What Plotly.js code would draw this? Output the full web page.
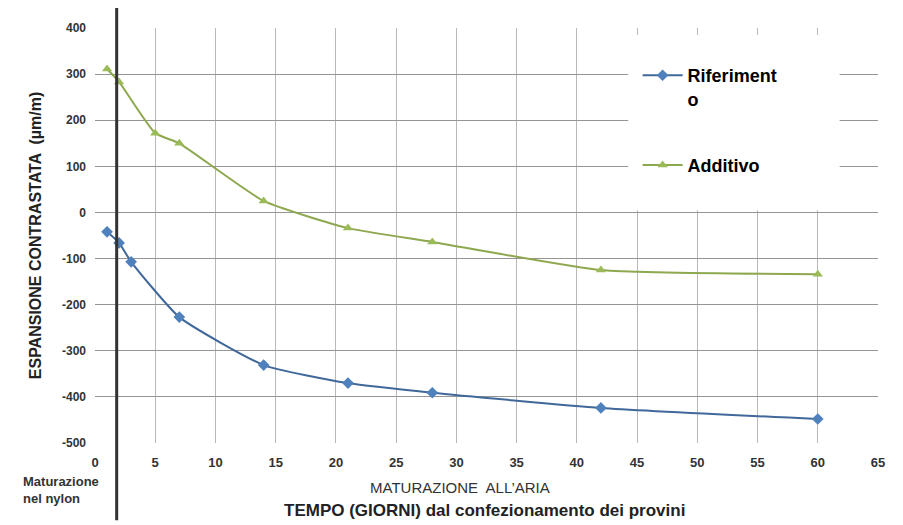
<!DOCTYPE html>
<html><head><meta charset="utf-8">
<script src="https://cdn.plot.ly/plotly-3.0.1.min.js"></script>
<style>html,body{margin:0;padding:0;background:#fff}#chart{width:903px;height:525px}</style>
</head><body><div id="chart"></div>
<script>
const days = [1, 2, 3, 7, 14, 21, 28, 42, 60];
const riferimento = [-42, -66, -107, -227, -331, -370, -391, -424, -448];
const daysAdd = [1, 2, 5, 7, 14, 21, 28, 42, 60];
const additivo = [311, 283, 172, 150, 25, -34, -64, -125, -134];
const xTicks = [0,5,10,15,20,25,30,35,40,45,50,55,60,65];
const yTicks = [-500,-400,-300,-200,-100,0,100,200,300,400];
const yTickText = ['-500','-400','-300','-200','-100','0','100','200','300','400'];

const traces = [
  {x: days, y: riferimento, name: 'Riferiment<br>o', mode: 'lines+markers', legendgroup: 'a',
   line: {color: '#41689a', width: 2, shape: 'spline', smoothing: 0.5},
   marker: {symbol: 'diamond', size: 9, color: '#4f81bd'}},
  {x: daysAdd, y: additivo, name: 'Additivo', mode: 'lines+markers', legendgroup: 'b',
   line: {color: '#8ea84f', width: 2, shape: 'spline', smoothing: 0.5},
   marker: {symbol: 'triangle-up', size: 9, color: '#9bbb59'}}
];

const layout = {
  width: 903, height: 525,
  margin: {l: 95, r: 25, t: 28, b: 82},
  paper_bgcolor: '#fff', plot_bgcolor: '#fff',
  font: {family: 'Liberation Sans, Arial, sans-serif', color: '#222'},
  xaxis: {range: [0, 65], tickvals: xTicks, showgrid: true, gridcolor: '#b8b8b8', gridwidth: 1,
          zeroline: false, showline: false, ticks: '', ticklabelstandoff: 10,
          tickfont: {size: 13, color: '#333', weight: 'bold'}},
  yaxis: {range: [-500, 400], tickvals: yTicks, ticktext: yTickText, showgrid: true, gridcolor: '#959595', gridwidth: 1,
          zeroline: false, showline: false, ticks: '', ticklabelstandoff: 8,
          tickfont: {size: 12, color: '#333', weight: 'bold'},
          title: {text: 'ESPANSIONE CONTRASTATA  (µm/m)', standoff: 16,
                  font: {size: 16, color: '#222', weight: 'bold'}}},
  showlegend: true,
  legend: {x: 0.693, y: 0.93, xanchor: 'left', yanchor: 'top', bgcolor: 'rgba(0,0,0,0)',
           tracegroupgap: 40, valign: 'top', itemwidth: 40,
           font: {size: 18, color: '#000', weight: 'bold'}},
  shapes: [
    {type: 'rect', xref: 'paper', yref: 'paper', x0: 0.681, x1: 0.951, y0: 0.561, y1: 0.983,
     fillcolor: '#fff', line: {width: 0}, layer: 'above'},
    {type: 'line', xref: 'x', yref: 'paper', x0: 1.8, x1: 1.8, y0: -0.186, y1: 1.048,
     line: {color: '#333', width: 3}}
  ],
  annotations: [
    {text: 'MATURAZIONE  ALL\u2019ARIA', xref: 'paper', yref: 'paper', x: 0.466, y: -0.107,
     xanchor: 'center', yanchor: 'middle', showarrow: false, font: {size: 15, color: '#333'}},
    {text: 'TEMPO (GIORNI) dal confezionamento dei provini', xref: 'paper', yref: 'paper', x: 0.497, y: -0.162,
     xanchor: 'center', yanchor: 'middle', showarrow: false, font: {size: 17, color: '#222', weight: 'bold'}},
    {text: 'Maturazione<br>nel nylon', xref: 'paper', yref: 'paper', x: -0.094, y: -0.114,
     xanchor: 'left', yanchor: 'middle', align: 'left', showarrow: false,
     font: {size: 13, color: '#333', weight: 'bold'}}
  ]
};
Plotly.newPlot('chart', traces, layout, {displayModeBar: false});
</script></body></html>
